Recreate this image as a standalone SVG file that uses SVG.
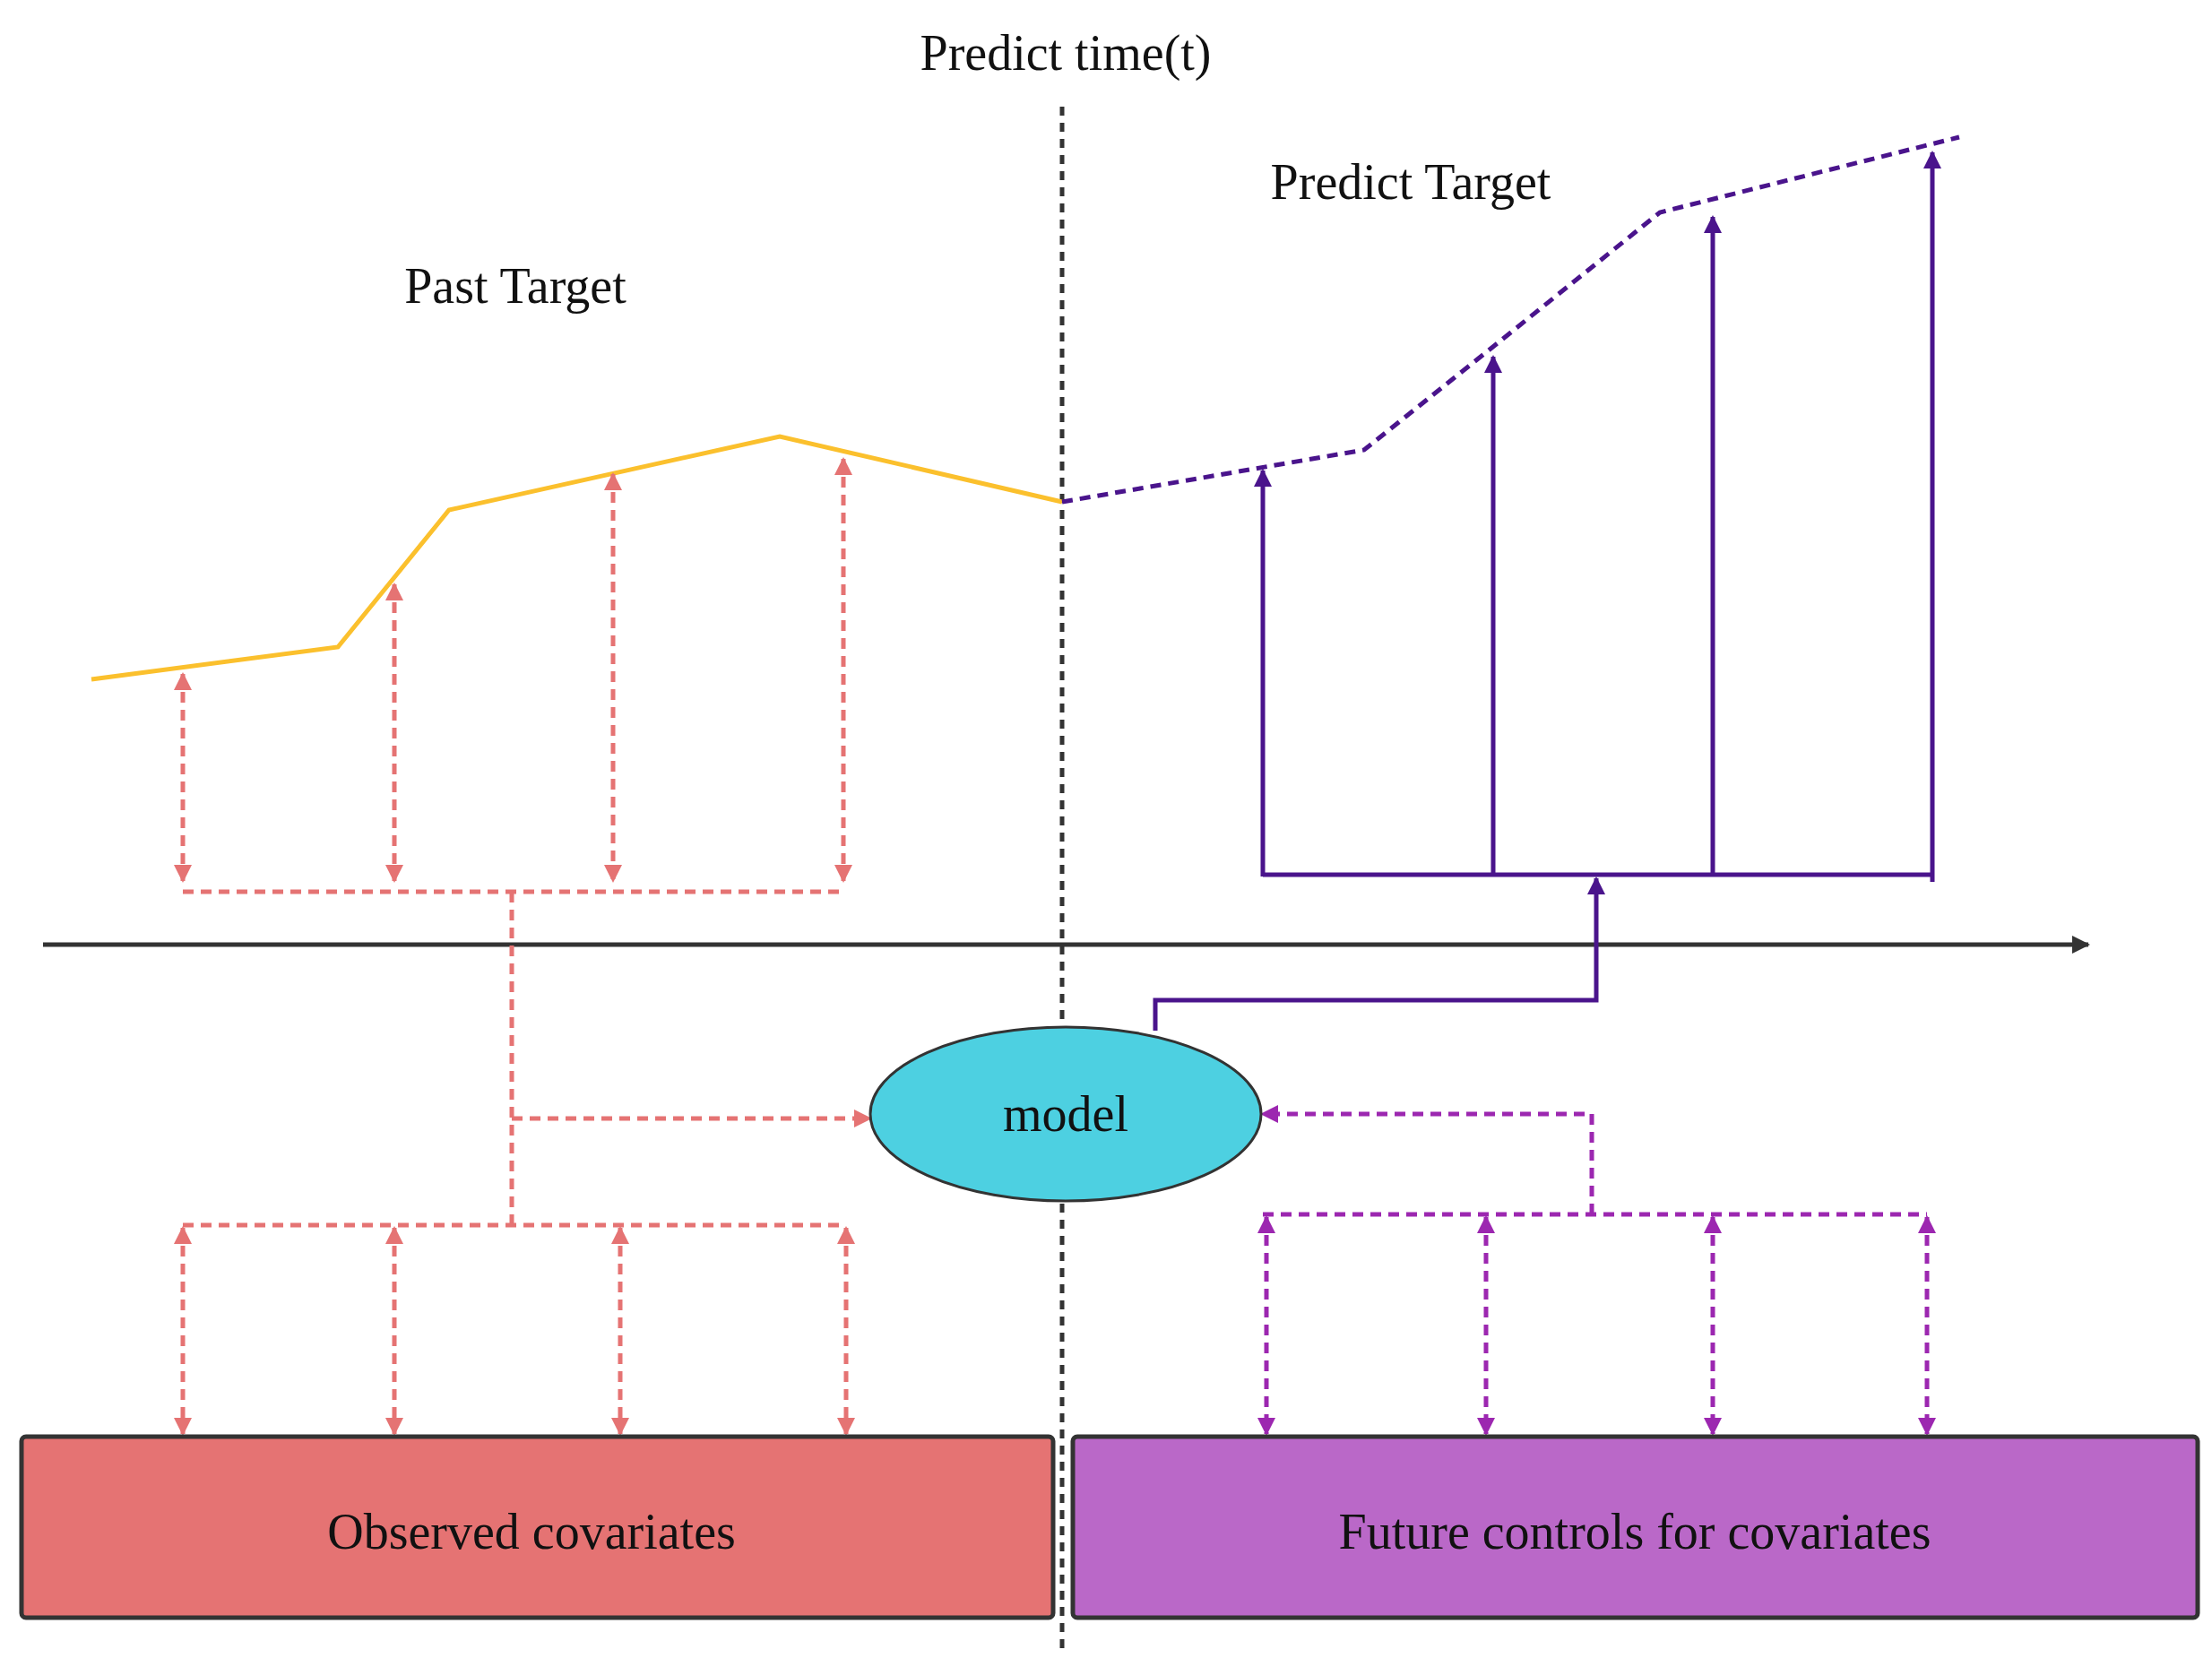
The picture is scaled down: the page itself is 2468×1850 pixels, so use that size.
<svg xmlns="http://www.w3.org/2000/svg" width="2468" height="1850" viewBox="0 0 2468 1850">
<style>
.t{font-family:"Liberation Serif",serif;font-size:56px;fill:#111;text-anchor:middle}
.r{stroke:#e57373;stroke-width:5;fill:none;stroke-dasharray:12 8}
.m{stroke:#9c27b0;stroke-width:5;fill:none;stroke-dasharray:12 8}
.p{stroke:#4a148c;stroke-width:5;fill:none}
</style>
<defs>
<marker id="ar" viewBox="0 0 10 10" refX="9" refY="5" markerWidth="20" markerHeight="20" markerUnits="userSpaceOnUse" orient="auto-start-reverse"><path d="M0,0L10,5L0,10z" fill="#e57373"/></marker>
<marker id="am" viewBox="0 0 10 10" refX="9" refY="5" markerWidth="20" markerHeight="20" markerUnits="userSpaceOnUse" orient="auto-start-reverse"><path d="M0,0L10,5L0,10z" fill="#9c27b0"/></marker>
<marker id="ap" viewBox="0 0 10 10" refX="9" refY="5" markerWidth="20" markerHeight="20" markerUnits="userSpaceOnUse" orient="auto"><path d="M0,0L10,5L0,10z" fill="#4a148c"/></marker>
<marker id="ak" viewBox="0 0 10 10" refX="9" refY="5" markerWidth="26" markerHeight="20" markerUnits="userSpaceOnUse" orient="auto"><path d="M0,0L10,5L0,10z" fill="#333"/></marker>
</defs>
<text class="t" x="1189" y="78">Predict  time(t)</text>
<text class="t" x="575" y="338">Past   Target</text>
<text class="t" x="1574" y="222" fill="#333">Predict  Target</text>
<line x1="1185" y1="119" x2="1185" y2="1845" stroke="#333" stroke-width="5" stroke-dasharray="10 8"/>
<line x1="48" y1="1054" x2="2330" y2="1054" stroke="#333" stroke-width="5" marker-end="url(#ak)"/>
<polyline points="102,758 377,722 501,569 870,487 1185,560" fill="none" stroke="#fbc02d" stroke-width="5"/>
<polyline points="1185,560 1522,502 1662,390 1852,237 2186,153" fill="none" stroke="#4a148c" stroke-width="5" stroke-dasharray="12 8"/>
<g id="connectors">
<line class="r" x1="204" y1="752" x2="204" y2="983" marker-start="url(#ar)" marker-end="url(#ar)"/>
<line class="r" x1="440" y1="652" x2="440" y2="983" marker-start="url(#ar)" marker-end="url(#ar)"/>
<line class="r" x1="684" y1="529" x2="684" y2="983" marker-start="url(#ar)" marker-end="url(#ar)"/>
<line class="r" x1="941" y1="512" x2="941" y2="983" marker-start="url(#ar)" marker-end="url(#ar)"/>
<line class="r" x1="204" y1="995" x2="944" y2="995"/>
<line class="r" x1="571" y1="995" x2="571" y2="1367"/>
<line class="r" x1="571" y1="1248" x2="971" y2="1248" marker-end="url(#ar)"/>
<line class="r" x1="204" y1="1367" x2="944" y2="1367"/>
<line class="r" x1="204" y1="1370" x2="204" y2="1600" marker-start="url(#ar)" marker-end="url(#ar)"/>
<line class="r" x1="440" y1="1370" x2="440" y2="1600" marker-start="url(#ar)" marker-end="url(#ar)"/>
<line class="r" x1="692" y1="1370" x2="692" y2="1600" marker-start="url(#ar)" marker-end="url(#ar)"/>
<line class="r" x1="944" y1="1370" x2="944" y2="1600" marker-start="url(#ar)" marker-end="url(#ar)"/>
<line class="m" x1="1409" y1="1355" x2="2150" y2="1355"/>
<polyline class="m" points="1776,1355 1776,1243 1408,1243" marker-end="url(#am)"/>
<line class="m" x1="1413" y1="1358" x2="1413" y2="1600" marker-start="url(#am)" marker-end="url(#am)"/>
<line class="m" x1="1658" y1="1358" x2="1658" y2="1600" marker-start="url(#am)" marker-end="url(#am)"/>
<line class="m" x1="1911" y1="1358" x2="1911" y2="1600" marker-start="url(#am)" marker-end="url(#am)"/>
<line class="m" x1="2150" y1="1358" x2="2150" y2="1600" marker-start="url(#am)" marker-end="url(#am)"/>
<line class="p" x1="1409" y1="976" x2="2155" y2="976"/>
<line class="p" x1="1409" y1="978" x2="1409" y2="525" marker-end="url(#ap)"/>
<line class="p" x1="1666" y1="976" x2="1666" y2="398" marker-end="url(#ap)"/>
<line class="p" x1="1911" y1="976" x2="1911" y2="242" marker-end="url(#ap)"/>
<line class="p" x1="2156" y1="984" x2="2156" y2="170" marker-end="url(#ap)"/>
<polyline class="p" points="1289,1150 1289,1116 1781,1116 1781,980" marker-end="url(#ap)"/>
</g>
<g id="model">
<ellipse cx="1189" cy="1243" rx="218" ry="97" fill="#4dd0e1" stroke="#333" stroke-width="3"/>
<text class="t" x="1189" y="1262" fill="#333">model</text>
</g>
<g id="observed">
<rect x="24" y="1603" width="1151" height="202" rx="5" fill="#e57373" stroke="#333" stroke-width="5"/>
<text class="t" x="593" y="1728" fill="#333">Observed  covariates</text>
</g>
<g id="future">
<rect x="1197" y="1603" width="1255" height="202" rx="5" fill="#ba68c8" stroke="#333" stroke-width="5"/>
<text class="t" x="1824" y="1728" fill="#333">Future controls  for  covariates</text>
</g>
</svg>
